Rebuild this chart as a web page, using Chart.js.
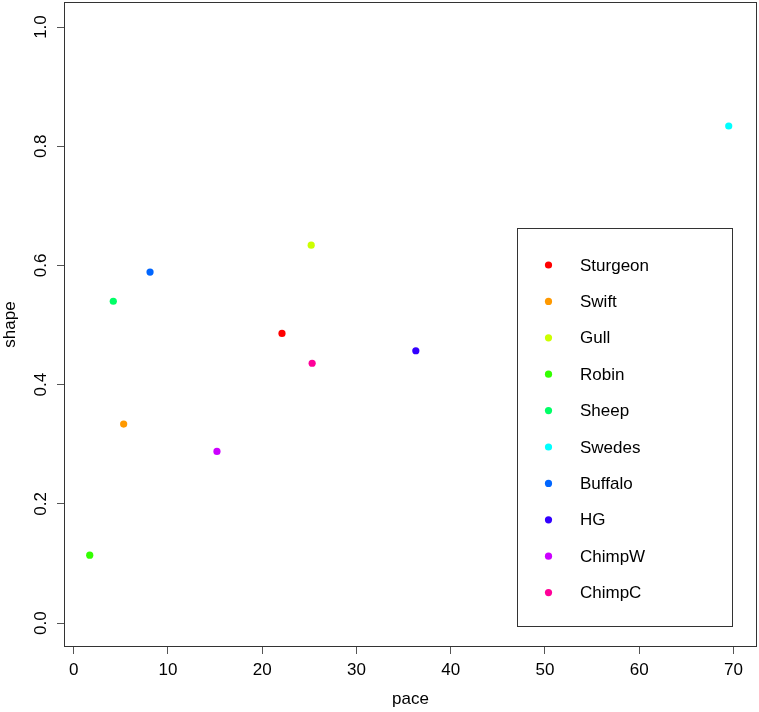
<!DOCTYPE html>
<html>
<head>
<meta charset="utf-8">
<script src="https://cdn.jsdelivr.net/npm/chart.js@4.4.1/dist/chart.umd.min.js"></script>
<style>
html, body { margin: 0; padding: 0; background: #fff; }
#contenedor { width: 759px; height: 712px; }
</style>
</head>
<body>
<div id="contenedor"><canvas id="grafico"></canvas></div>
<script>
// DATOS DEL GRAFICO.
const nombres = ['Sturgeon', 'Swift', 'Gull', 'Robin', 'Sheep', 'Swedes', 'Buffalo', 'HG', 'ChimpW', 'ChimpC'];
const pace    = [22.1, 5.3, 25.2, 1.7, 4.2, 69.5, 8.1, 36.3, 15.2, 25.3];
const shape   = [0.486, 0.334, 0.634, 0.114, 0.540, 0.834, 0.589, 0.457, 0.288, 0.436];
const colores = ['#FF0000', '#FF9900', '#CCFF00', '#33FF00', '#00FF66', '#00FFFF', '#0066FF', '#3300FF', '#CC00FF', '#FF0099'];
const ticksX  = [0, 10, 20, 30, 40, 50, 60, 70];
const ticksY  = [0, 0.2, 0.4, 0.6, 0.8, 1.0];

const fuente = "'Liberation Sans', Arial, sans-serif";
Chart.defaults.font.family = fuente;
Chart.defaults.font.size = 17;
Chart.defaults.color = '#000';

// UN DATASET POR PUNTO, ASI CADA UNO TIENE SU COLOR Y SU ETIQUETA.
const datasets = nombres.map((nombre, i) => ({
    label: nombre,
    data: [{x: pace[i], y: shape[i]}],
    backgroundColor: colores[i],
    borderWidth: 0,
    pointRadius: 3.6
}));

// PLUGIN: CAJA DEL GRAFICO, ETIQUETAS GIRADAS DEL EJE Y Y LEYENDA INTERNA.
const estiloR = {
    id: 'estiloR',
    afterDraw(chart) {
        const ctx = chart.ctx;
        const area = chart.chartArea;
        ctx.save();
        ctx.strokeStyle = '#333';
        ctx.lineWidth = 1;
        ctx.strokeRect(Math.round(area.left) + 0.5, Math.round(area.top) + 0.5,
            Math.round(area.right - area.left) - 1, Math.round(area.bottom - area.top) - 1);

        // Etiquetas del eje Y, de abajo hacia arriba como en R.
        const escalaY = chart.scales.y;
        ctx.fillStyle = '#000';
        ctx.font = '17px ' + fuente;
        ctx.textAlign = 'center';
        ctx.textBaseline = 'alphabetic';
        ticksY.forEach(v => {
            const py = escalaY.getPixelForValue(v);
            ctx.save();
            ctx.translate(area.left - 18, py);
            ctx.rotate(-Math.PI / 2);
            ctx.fillText(v.toFixed(1), 0, 0);
            ctx.restore();
        });

        // Leyenda.
        ctx.strokeStyle = '#333';
        ctx.strokeRect(517.5, 228.5, 215, 398);
        ctx.textAlign = 'left';
        ctx.textBaseline = 'middle';
        chart.data.datasets.forEach((ds, i) => {
            const yy = 265 + i * 36.4;
            ctx.beginPath();
            ctx.arc(548.5, yy, 3.6, 0, Math.PI * 2);
            ctx.fillStyle = ds.backgroundColor;
            ctx.fill();
            ctx.fillStyle = '#000';
            ctx.fillText(ds.label, 580, yy + 1);
        });
        ctx.restore();
    }
};

const ctx = document.getElementById('grafico');
const config = {
    type: 'scatter',
    data: { datasets: datasets },
    options: {
        responsive: true,
        maintainAspectRatio: false,
        animation: false,
        layout: { autoPadding: false, padding: { top: 2, right: 2, left: 0, bottom: 0 } },
        plugins: {
            legend: { display: false },
            tooltip: { enabled: false }
        },
        scales: {
            x: {
                type: 'linear',
                min: -1.03,
                max: 72.5,
                afterBuildTicks: s => { s.ticks = ticksX.map(v => ({value: v})); },
                afterFit: s => { s.height = 65; },
                grid: { display: true, drawOnChartArea: false, drawTicks: true, tickLength: 7, color: '#555' },
                border: { display: false },
                ticks: { padding: 6, maxRotation: 0, autoSkip: false, color: '#000' },
                title: { display: true, text: 'pace', padding: { top: 0, bottom: 2 }, color: '#000' }
            },
            y: {
                type: 'linear',
                min: -0.04,
                max: 1.042,
                afterBuildTicks: s => { s.ticks = ticksY.map(v => ({value: v})); },
                afterFit: s => { s.width = 64; },
                grid: { display: true, drawOnChartArea: false, drawTicks: true, tickLength: 7, color: '#555' },
                border: { display: false },
                ticks: { display: false },
                title: { display: true, text: 'shape', padding: { top: 0, bottom: 0 }, color: '#000' }
            }
        }
    },
    plugins: [estiloR]
};
const grafico = new Chart(ctx, config);
</script>
</body>
</html>
